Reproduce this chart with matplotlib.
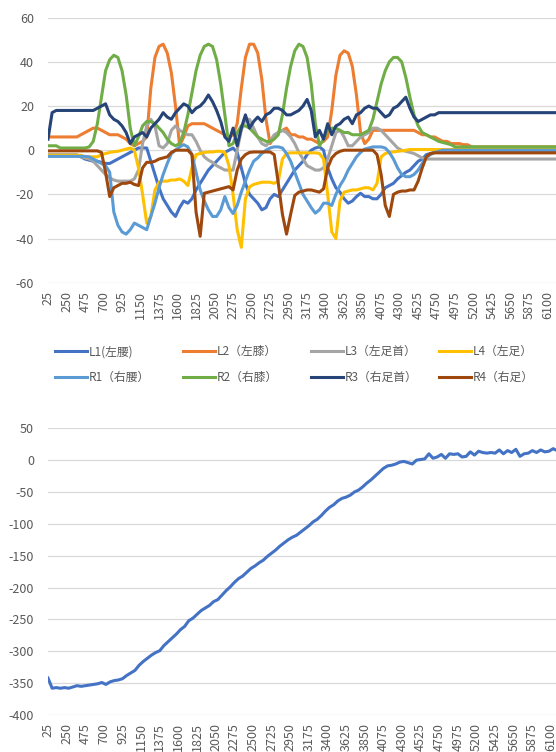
import numpy as np
import matplotlib.pyplot as plt

plt.rcParams['font.family'] = ['Noto Sans CJK JP', 'DejaVu Sans']
plt.rcParams['axes.unicode_minus'] = False

# categories (every 50 on the sample axis)
x_top = np.arange(25, 6226, 50)
x_bot = np.arange(25, 6176, 50)
tick_pos = np.arange(25, 6101, 225)

names = ['L1(左腰)', 'L2（左膝）', 'L3（左足首）', 'L4（左足）',
         'R1（右腰）', 'R2（右膝）', 'R3（右足首）', 'R4（右足）']
colors = ['#4472C4', '#ED7D31', '#A5A5A5', '#FFC000',
          '#5B9BD5', '#70AD47', '#264478', '#9E480E']

L1 = [-2.5, -2.5, -2.5, -2.5, -2.5, -2.5, -2.5, -2.5, -3, -4,
      -4.5, -5, -5, -5.5, -6, -6, -5, -4, -3, -2,
      -1, 0, 1, 1, 1, -5, -11, -17, -22, -25,
      -28, -30, -26, -23, -24, -22, -18, -15, -12, -9,
      -7, -5, -3, -1, 0, 1, -1, -8, -15, -20,
      -22, -24, -27, -26, -22, -20, -21, -18, -15, -12,
      -9, -7, -5, -2, 0, 1, 1.5, 0, -8, -13,
      -17, -19, -22, -24, -23, -21, -19.5, -21, -21, -22,
      -22, -20, -17, -16, -15, -13, -11.5, -10, -9, -7,
      -5, -4, -2, -1.5, -1, -0.8, -0.5, -0.5, -0.5, -0.5,
      -0.5, -0.5, -0.5, -0.5, -0.5, -0.5, -0.5, -0.5, -0.5, -0.5,
      -0.5, -0.5, -0.5, -0.5, -0.5, -0.5, -0.5, -0.5, -0.5, -0.5,
      -0.5, -0.5, -0.5, -0.5, -0.5]
L2 = [6, 6, 6, 6, 6, 6, 6, 6, 7, 8,
      9, 10, 10, 9, 8, 7, 7, 7, 6, 5,
      3, 2, 3, 4, 6, 28, 42, 47, 48, 44,
      35, 20, 2, 6, 11, 12, 12, 12, 12, 11,
      10, 9, 8, 7, 6, 7, 12, 28, 42, 48,
      48, 44, 32, 14, 3, 6, 8, 9, 10, 7,
      7, 6, 6, 5, 5, 4, 3, 4, 6, 18,
      34, 43, 45, 44, 38, 25, 8, 3, 5, 9,
      9, 9, 9, 9, 9, 9, 9, 9, 9, 9,
      8, 7, 7, 6, 6, 5, 4, 4, 3, 3,
      3, 2.5, 2.5, 1.5, 1.5, 1.5, 1.5, 1.5, 1.5, 1.5,
      1.5, 1.5, 1.5, 1.5, 1.5, 1.5, 1.5, 1.5, 1.5, 1.5,
      1.5, 1.5, 1.5, 1.5, 1.5]
L3 = [-2, -2, -2, -2, -2, -2, -2, -2, -3, -3.5,
      -4, -5, -7, -9, -11, -12.5, -13.5, -14, -14, -14,
      -14, -13, -9, 3, 11, 14, 11, 2, 1, 3,
      9, 11, 9, 8, 7, 7, 4, 0, -3, -4.5,
      -5.5, -7, -8, -9, -9, -9, 0, 9, 14, 14,
      10, 6, 3, 2, 4, 7, 8, 9, 8, 6,
      3, -1, -4, -7, -8, -9, -9, -8, -4, 2,
      8, 9, 6, 2, 2, 4, 6, 7, 8, 10,
      10, 9, 7, 5, 3, 1, 0, -0.5, -1, -1.5,
      -2.5, -3.5, -4, -4, -4, -4, -4, -4, -4, -4,
      -4, -4, -4, -4, -4, -4, -4, -4, -4, -4,
      -4, -4, -4, -4, -4, -4, -4, -4, -4, -4,
      -4, -4, -4, -4, -4]
L4 = [-2.3, -2.3, -2.3, -2.3, -2.3, -2.3, -2.3, -2.3, -2.3, -3,
      -3, -3, -3, -2, -1.5, -1, -0.7, -0.5, 0, 0.5,
      1, 0, -8, -20, -33, -30, -18, -14.5, -14, -14,
      -13.5, -13.5, -13, -14, -16, -8, -2, -1.5, -1, -0.8,
      -0.8, -0.5, -0.5, -1, -7, -20, -36, -44, -22, -16.6,
      -15.5, -15, -14.5, -14.5, -14.5, -15, -14, -4, -1.5, -1.2,
      -1.2, -1.2, -1.2, -1.2, -1.2, -1.2, -1.5, -4, -20, -37,
      -40, -23, -19, -18.5, -18, -18, -17.5, -17, -17, -18,
      -15, -3, -1.5, -1, -0.8, -0.5, -0.3, 0, 0.3, 0.3,
      0.3, 0.3, 0.3, 0.3, 0.3, 0.3, 0.3, 0.3, 0.3, 0.3,
      0.3, 0.3, 0.3, 0.3, 0.3, 0.3, 0.3, 0.3, 0.3, 0.3,
      0.3, 0.3, 0.3, 0.3, 0.3, 0.3, 0.3, 0.3, 0.3, 0.3,
      0.3, 0.3, 0.3, 0.3, 0.3]
R1 = [-2.8, -2.8, -2.8, -2.8, -2.8, -2.8, -2.8, -2.8, -2.8, -2.8,
      -3, -4, -5, -6, -7, -10, -28, -34, -37, -38,
      -36, -33, -34, -35, -36, -30, -24, -17, -11, -6,
      -1.5, 0, 1.5, 2.5, 1.5, -2, -10, -18, -23, -27,
      -30, -30, -27, -21, -26, -28.7, -25, -19, -14, -9,
      -5, -3.5, -1.5, 0, 1, 1.5, 1.5, 1, -1.5, -5,
      -10, -15, -20, -23, -26, -28.5, -27, -24, -24, -25,
      -20, -16, -13, -9, -6, -3, -1, 0.5, 1, 1.5,
      1.5, 1.5, 1, -1, -4, -8, -11, -12, -12, -11,
      -9, -6, -3, -2, -1, -0.5, 0, 0, 0, 0,
      0, 0, 0, 0, 0, 0, 0, 0, 0, 0,
      0, 0, 0, 0, 0, 0, 0, 0, 0, 0,
      0, 0, 0, 0, 0]
R2 = [2, 2, 2, 1, 1, 1, 1, 1, 1, 1,
      1.5, 4, 12, 24, 36, 41, 43, 42, 36, 25,
      10, 2, 6, 11, 13, 13, 12, 10, 8, 5,
      3, 2, 3, 8, 16, 26, 36, 43, 47, 48,
      47, 41, 30, 16, 2, 3, 8, 11, 11, 10,
      8, 6, 5, 4, 4, 5, 7, 16, 28, 38,
      45, 48, 47, 42, 30, 12, 2, 5, 9, 10,
      10, 9, 8, 8, 7, 7, 7, 8, 9, 14,
      22, 30, 36, 40, 42, 42, 40, 33, 24, 16,
      11, 8, 7, 6, 5, 4, 3.5, 3, 2.5, 1.5,
      1.5, 1.5, 1.5, 1.5, 1.5, 1.5, 1.5, 1.5, 1.5, 1.5,
      1.5, 1.5, 1.5, 1.5, 1.5, 1.5, 1.5, 1.5, 1.5, 1.5,
      1.5, 1.5, 1.5, 1.5, 1.5]
R3 = [5, 17, 18, 18, 18, 18, 18, 18, 18, 18,
      18, 18, 19, 20, 21, 16, 14, 13, 11, 8,
      3, 6, 7, 8, 6, 10, 12, 14, 17, 15,
      14, 17, 19, 21, 20, 17, 19, 20, 22, 25,
      22, 18, 13, 6, 4, 10, 2, 10, 16, 10,
      13, 15, 13, 16, 17, 19, 19, 18, 16, 16,
      17, 18, 20, 23, 18, 6, 9, 5, 12, 7,
      11, 12, 14, 15, 12, 16, 17, 19, 20, 19,
      19, 17, 15, 16, 19, 20, 22, 24, 19, 15,
      13, 14, 15, 16, 16, 17, 17, 17, 17, 17,
      17, 17, 17, 17, 17, 17, 17, 17, 17, 17,
      17, 17, 17, 17, 17, 17, 17, 17, 17, 17,
      17, 17, 17, 17, 17]
R4 = [-0.3, -0.3, -0.3, -0.3, -0.3, -0.3, -0.3, -0.3, -0.3, -0.3,
      -0.3, -0.3, -0.3, -1, -10, -21, -17, -16, -15, -15,
      -14.5, -15.5, -16, -8, -5.5, -5.5, -5, -4, -3.5, -3,
      -1, 0, 0, 0, 0, -2, -28, -39, -19.5, -19,
      -18.5, -18, -17.5, -17, -16.5, -18, -9, -4, -2, -1,
      -0.8, -0.8, -0.8, -0.8, -0.8, -2, -15, -29, -38, -29,
      -20.5, -19, -18.5, -18, -18, -18.5, -19, -17.5, -8, -3.5,
      -1.5, -0.5, 0, 0, 0, 0, 0, 0, 0, 0,
      -2, -11, -25, -30, -20, -19, -18.5, -18.5, -18, -18,
      -14, -8, -3, -1.5, -1.2, -1.2, -1.2, -1.2, -1.2, -1.2,
      -1.2, -1.2, -1.2, -1.2, -1.2, -1.2, -1.2, -1.2, -1.2, -1.2,
      -1.2, -1.2, -1.2, -1.2, -1.2, -1.2, -1.2, -1.2, -1.2, -1.2,
      -1.2, -1.2, -1.2, -1.2, -1.2]

total = [-342, -358, -357, -358, -357, -358, -356, -354, -355, -354,
         -353, -352, -351, -349, -352, -348, -346, -345, -343, -338,
         -334, -330, -322, -316, -311, -306, -302, -299, -291, -285,
         -279, -273, -266, -261, -252, -248, -242, -236, -232, -228,
         -222, -219, -212, -205, -199, -192, -186, -182, -176, -170,
         -166, -161, -157, -151, -146, -141, -135, -130, -125, -121,
         -118, -113, -108, -103, -97, -93, -87, -80, -74, -70,
         -64, -60, -58, -55, -50, -47, -42, -36, -31, -25,
         -19, -13, -9, -8, -6, -3, -2, -4, -6, 0,
         1, 2, 10, 3, 5, 9, 3, 10, 9, 10,
         5, 6, 13, 8, 14, 12, 11, 12, 11, 16,
         10, 15, 12, 17, 6, 10, 11, 15, 12, 16,
         13, 14, 18, 15]

series = [L1, L2, L3, L4, R1, R2, R3, R4]

fig = plt.figure(figsize=(5.56, 7.52), dpi=100)
ax1 = fig.add_axes([48/556, 1 - 282.7/752, 508/556, 265/752])
ax2 = fig.add_axes([48/556, 1 - 715/752, 508/556, 286.7/752])

lines = []
for s, name, c in zip(series, names, colors):
    ln, = ax1.plot(x_top, s, color=c, lw=2.2, label=name, solid_joinstyle='round')
    lines.append(ln)

ax2.plot(x_bot, total, color='#4472C4', lw=2.2, solid_joinstyle='round')

for ax in (ax1, ax2):
    for sp in ax.spines.values():
        sp.set_visible(False)
    ax.grid(axis='y', color='#D9D9D9', lw=0.9)
    ax.set_axisbelow(True)
    ax.tick_params(length=0, labelsize=9, labelcolor='#595959')
    ax.tick_params(axis='y', pad=10)
    ax.tick_params(axis='x', pad=6)
    ax.set_xticks(tick_pos)
    ax.set_xticklabels([str(t) for t in tick_pos], rotation=90)

ax1.set_xlim(25, 6201)
ax1.set_ylim(-60, 60)
ax1.set_yticks(np.arange(-60, 61, 20))

ax2.set_xlim(25, 6160)
ax2.set_ylim(-400, 50)
ax2.set_yticks(np.arange(-400, 51, 50))

# legend: 4 columns x 2 rows
col_x = [55, 183, 311, 439]
for k in range(4):
    fig.legend(handles=[lines[k], lines[k + 4]], loc='center left',
               bbox_to_anchor=(col_x[k] / 556, 1 - 364.5 / 752),
               frameon=False, fontsize=8.5, handlelength=2.7,
               handletextpad=0.15, labelspacing=1.05, borderpad=0,
               borderaxespad=0, labelcolor='#595959')

fig.savefig('out.png', dpi=100)
